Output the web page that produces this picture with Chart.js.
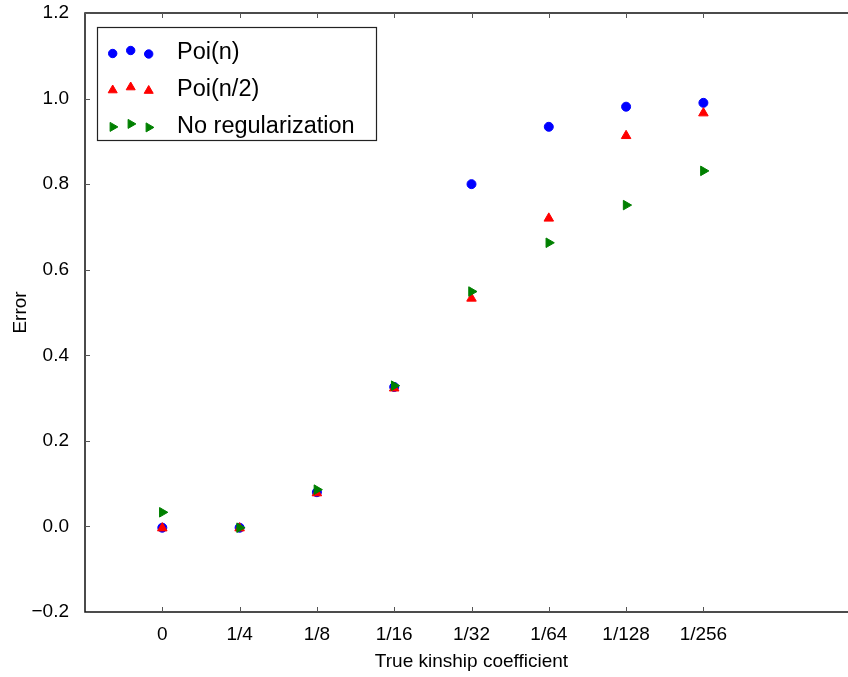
<!DOCTYPE html>
<html>
<head>
<meta charset="utf-8">
<script src="https://cdn.jsdelivr.net/npm/chart.js@4.4.1/dist/chart.umd.min.js"></script>
<style>
  html, body { margin: 0; padding: 0; background: #fff; overflow: hidden; }
  #errorChart { display: block; }
</style>
</head>
<body>
<canvas id="errorChart" width="858" height="677"></canvas>
<script>
// kinship coefficient categories on the x axis
const categories = ['0', '1/4', '1/8', '1/16', '1/32', '1/64', '1/128', '1/256']

// error per category
const poiN = [-0.003, -0.003, 0.08, 0.326, 0.80, 0.934, 0.981, 0.99]
const poiHalfN = [-0.004, -0.004, 0.078, 0.323, 0.533, 0.72, 0.913, 0.966]
const noReg = [0.033, -0.003, 0.086, 0.329, 0.549, 0.663, 0.751, 0.831]

const seriesNames = ['Poi(n)', 'Poi(n/2)', 'No regularization']

const yTicks = [-0.2, 0.0, 0.2, 0.4, 0.6, 0.8, 1.0, 1.2]

const FONT = "'Liberation Sans', Arial, Helvetica, sans-serif"

function points(values) {
  return values.map((v, i) => ({ x: i, y: v }))
}

// matplotlib style frame with inward ticks
const frame = {
  id: 'frame',
  afterDraw(chart) {
    const { ctx, chartArea: a, scales: { x, y } } = chart
    ctx.save()
    ctx.strokeStyle = '#111'
    ctx.lineWidth = 1.5
    ctx.strokeRect(a.left, a.top, a.right - a.left, a.bottom - a.top)

    ctx.strokeStyle = '#555'
    ctx.lineWidth = 1
    ctx.beginPath()
    categories.forEach((c, i) => {
      const px = Math.round(x.getPixelForValue(i)) + 0.5
      ctx.moveTo(px, a.bottom)
      ctx.lineTo(px, a.bottom - 5)
      ctx.moveTo(px, a.top)
      ctx.lineTo(px, a.top + 5)
    })
    yTicks.forEach(v => {
      const py = Math.round(y.getPixelForValue(v)) + 0.5
      ctx.moveTo(a.left, py)
      ctx.lineTo(a.left + 5, py)
      ctx.moveTo(a.right, py)
      ctx.lineTo(a.right - 5, py)
    })
    ctx.stroke()
    ctx.restore()
  }
}

// boxed legend with three markers per entry
const legendBox = {
  id: 'legendBox',
  afterDraw(chart) {
    const ctx = chart.ctx
    const left = 97, top = 27, w = 279, h = 113
    ctx.save()
    ctx.fillStyle = '#fff'
    ctx.fillRect(left, top, w, h)
    ctx.strokeStyle = '#222'
    ctx.lineWidth = 1.2
    ctx.strokeRect(left + 0.5, top + 0.5, w, h)

    const markerX = [112.7, 130.7, 148.7]
    const markerDy = [0.5, -2.5, 1]
    chart.data.datasets.forEach((ds, i) => {
      const rowY = 53 + i * 36.7
      markerX.forEach((mx, k) => {
        ctx.fillStyle = ds.backgroundColor
        ctx.strokeStyle = ds.borderColor
        ctx.lineWidth = 1
        Chart.helpers.drawPoint(ctx, {
          pointStyle: ds.pointStyle,
          rotation: ds.rotation || 0,
          radius: ds.pointStyle === 'circle' ? 4.2 : 5.2,
          borderWidth: 1
        }, mx, rowY + markerDy[k])
      })
      ctx.fillStyle = '#000'
      ctx.font = `23.5px ${FONT}`
      ctx.textBaseline = 'middle'
      ctx.textAlign = 'left'
      ctx.fillText(ds.label, 177, rowY)
    })
    ctx.restore()
  }
}

const ctx = document.getElementById('errorChart').getContext('2d')

new Chart(ctx, {
  type: 'scatter',
  data: {
    datasets: [
      {
        label: seriesNames[0],
        data: points(poiN),
        pointStyle: 'circle',
        pointRadius: 4.5,
        backgroundColor: '#0000ff',
        borderColor: '#0000ff',
        pointBorderWidth: 1,
        order: 2
      },
      {
        label: seriesNames[1],
        data: points(poiHalfN),
        pointStyle: 'triangle',
        pointRadius: 5.5,
        backgroundColor: '#ff0000',
        borderColor: '#ff0000',
        pointBorderWidth: 1,
        order: 1
      },
      {
        label: seriesNames[2],
        data: points(noReg),
        pointStyle: 'triangle',
        rotation: 90,
        pointRotation: 90,
        pointRadius: 5.5,
        backgroundColor: '#008000',
        borderColor: '#008000',
        pointBorderWidth: 1,
        order: 0
      }
    ]
  },
  options: {
    responsive: false,
    animation: false,
    layout: {
      autoPadding: false,
      padding: { top: 13, left: 0, right: 0, bottom: 0 }
    },
    plugins: {
      legend: { display: false },
      tooltip: { enabled: false }
    },
    scales: {
      x: {
        type: 'linear',
        min: -1,
        max: 9,
        afterFit(scale) {
          scale.height = 65
          scale.paddingLeft = 0
          scale.paddingRight = 0
        },
        afterBuildTicks(scale) {
          scale.ticks = categories.map((c, i) => ({ value: i }))
        },
        grid: { display: false },
        border: { display: false },
        ticks: {
          padding: 3,
          color: '#000',
          maxRotation: 0,
          autoSkip: false,
          font: { family: FONT, size: 19 },
          callback: v => categories[v] ?? ''
        },
        title: {
          display: true,
          text: 'True kinship coefficient',
          color: '#000',
          font: { family: FONT, size: 19 },
          padding: { top: 0, bottom: 4 }
        }
      },
      y: {
        min: -0.2,
        max: 1.2,
        afterFit(scale) {
          scale.width = 85
          scale.paddingTop = 0
          scale.paddingBottom = 0
        },
        afterBuildTicks(scale) {
          scale.ticks = yTicks.map(v => ({ value: v }))
        },
        grid: { display: false },
        border: { display: false },
        ticks: {
          padding: 8,
          color: '#000',
          font: { family: FONT, size: 19 },
          callback: v => (v < -1e-9 ? '\u2212' : '') + Math.abs(v).toFixed(1)
        },
        title: {
          display: true,
          text: 'Error',
          color: '#000',
          font: { family: FONT, size: 19 },
          padding: { top: 9, bottom: 0 }
        }
      }
    }
  },
  plugins: [frame, legendBox]
})
</script>
</body>
</html>
